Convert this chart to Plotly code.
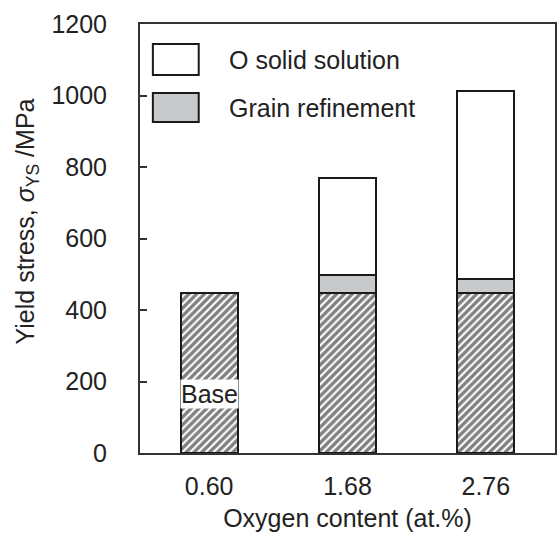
import plotly.graph_objects as go

categories = ["0.60", "1.68", "2.76"]
base = [448, 448, 448]
grain = [None, 50, 38]
o_solid = [None, 271, 528]
y_ticks = [0, 200, 400, 600, 800, 1000, 1200]

FONT = "Liberation Sans, Arial, sans-serif"
TXT = "#222222"
EDGE = "#1a1a1a"
FS = 25

fig = go.Figure()
fig.add_trace(go.Bar(
    x=categories, y=base, name="Base", width=0.41,
    marker=dict(color="white", line=dict(color=EDGE, width=2),
                pattern=dict(shape="/", fgcolor="#000000", bgcolor="white",
                             size=5.5, solidity=0.6)),
    showlegend=False))
fig.add_trace(go.Bar(
    x=categories, y=grain, name="Grain refinement", width=0.41,
    marker=dict(color="#c8c9cb", line=dict(color=EDGE, width=2)),
    showlegend=False))
fig.add_trace(go.Bar(
    x=categories, y=o_solid, name="O solid solution", width=0.41,
    marker=dict(color="white", line=dict(color=EDGE, width=2)),
    showlegend=False))

# legend drawn as boxes + text
legend_items = [("O solid solution", "white", 0.9534, 0.881, 0.916),
                ("Grain refinement", "#c8c9cb", 0.839, 0.7716, 0.804)]
for label, col, ytop, ybot, ytxt in legend_items:
    fig.add_shape(type="rect", xref="paper", yref="paper",
                  x0=0.031, x1=0.1415, y0=ybot, y1=ytop,
                  fillcolor=col, line=dict(color=EDGE, width=2))
    fig.add_annotation(xref="paper", yref="paper", x=0.2086, y=ytxt,
                       text=label, showarrow=False, xanchor="left", yanchor="middle",
                       font=dict(family=FONT, size=FS, color=TXT))

fig.add_annotation(x=0, y=165, text="Base", showarrow=False,
                   bgcolor="white", borderpad=0,
                   font=dict(family=FONT, size=FS, color=TXT))

fig.add_annotation(xref="paper", yref="paper", x=-0.272, y=0.54,
                   text="Yield stress, <i>σ</i><sub>YS</sub> /MPa", textangle=-90,
                   showarrow=False, xanchor="center", yanchor="middle",
                   font=dict(family=FONT, size=FS, color=TXT))

fig.update_layout(
    width=558, height=541, barmode="stack", bargap=0.59,
    margin=dict(l=140, r=1, t=24, b=88),
    plot_bgcolor="white", paper_bgcolor="white",
    font=dict(family=FONT, size=FS, color=TXT),
    xaxis=dict(type="category", showgrid=False, ticks="", showline=True,
               linecolor="#333333", linewidth=2, mirror=True,
               tickfont=dict(size=FS), ticklabelstandoff=10,
               title=dict(text="Oxygen content (at.%)", font=dict(size=FS), standoff=10)),
    yaxis=dict(range=[0, 1200], tickvals=y_ticks, showgrid=False, zeroline=False,
               ticks="inside", ticklen=7, tickwidth=1.5, tickcolor="#333333",
               showline=True, linecolor="#333333", linewidth=2, mirror=True,
               tickfont=dict(size=FS), ticklabelstandoff=26),
)

fig.write_html("out.html")
